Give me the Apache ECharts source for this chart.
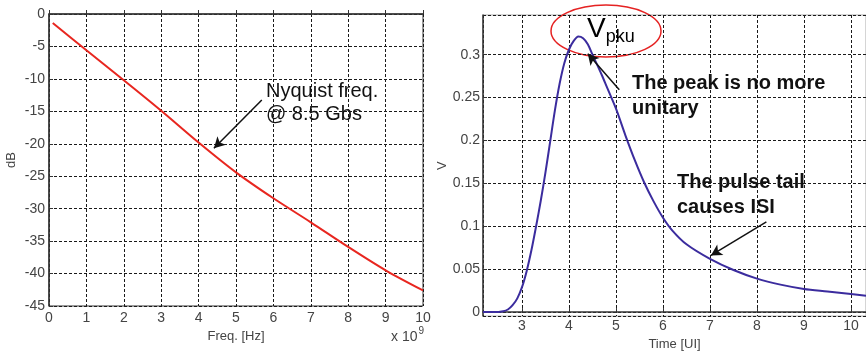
<!DOCTYPE html>
<html>
<head>
<meta charset="utf-8">
<title>Channel loss and pulse response</title>
<style>
  html, body { margin: 0; padding: 0; background: #fff; }
  #main { width: 866px; height: 356px; }
</style>
</head>
<body>
<div id="main"></div>
<script src="https://cdn.jsdelivr.net/npm/echarts@6/dist/echarts.min.js"></script>
<script>
// left plot: channel loss vs frequency (x in units of 1e9 Hz)
var freqGHz = [0.1, 1, 2, 3, 4, 5, 6, 7, 8, 9, 10];
var lossDb = [-1.4, -5.6, -10.2, -14.9, -19.8, -24.4, -28.4, -32.1, -35.9, -39.5, -42.6];
var freqTicks = ['0', '1', '2', '3', '4', '5', '6', '7', '8', '9', '10'];
var dbTicks = ['0', '-5', '-10', '-15', '-20', '-25', '-30', '-35', '-40', '-45'];

// right plot: pulse response vs time in UI
var timeUI = [2.17, 2.4, 2.6, 2.7, 2.8, 2.9, 3.0, 3.1, 3.2, 3.3, 3.4, 3.5, 3.6, 3.7, 3.8, 3.9,
  4.0, 4.1, 4.2, 4.3, 4.4, 4.5, 4.6, 4.7, 4.8, 5.0, 5.2, 5.4, 5.6, 5.8, 6.0, 6.2, 6.5,
  7.0, 7.5, 8.0, 8.5, 9.0, 9.5, 10.0, 10.32];
var pulseV = [0.0, 0.0, 0.001, 0.003, 0.008, 0.016, 0.029, 0.048, 0.072, 0.100, 0.130, 0.163, 0.199, 0.235, 0.266, 0.290,
  0.306, 0.316, 0.321, 0.319, 0.312, 0.300, 0.288, 0.276, 0.263, 0.237, 0.206, 0.177, 0.151, 0.129, 0.110, 0.095, 0.079,
  0.062, 0.049, 0.039, 0.032, 0.027, 0.024, 0.021, 0.019];

// arrows, in data coordinates: [fromX, fromY, toX, toY]
var nyquistArrow = [5.69, -13.25, 4.41, -20.7];
var peakArrow = [5.07, 0.259, 4.40, 0.301];
var tailArrow = [8.20, 0.105, 7.02, 0.066];

var font = "'Liberation Sans', Arial, sans-serif";
var gridLine = { show: true, lineStyle: { color: '#1a1a1a', type: [3, 2], width: 1 } };
var tickLabel = { color: '#444', fontSize: 14, fontFamily: font };

function pairs(xs, ys) {
  return xs.map(function (x, i) { return [x, ys[i]]; });
}

function arrow(a) {
  return [{ coord: [a[0], a[1]] }, { coord: [a[2], a[3]] }];
}

var myChart = echarts.init(document.getElementById('main'), null, { renderer: 'canvas' });

var option = {
  backgroundColor: '#fff',
  animation: false,
  grid: [
    { left: 49, top: 14, width: 374, height: 292, show: true, borderColor: '#333', borderWidth: 1, backgroundColor: '#fff' },
    { left: 483, top: 15, width: 385, height: 302, show: true, borderColor: '#aaa', borderWidth: 1, backgroundColor: '#fff' }
  ],
  xAxis: [
    {
      gridIndex: 0, type: 'value', min: 0, max: 10, interval: 1,
      name: 'Freq. [Hz]', nameLocation: 'middle', nameGap: 19,
      nameTextStyle: { color: '#444', fontSize: 13, fontFamily: font },
      axisLine: { lineStyle: { color: '#333', width: 1.5 } },
      axisTick: { inside: true, length: 4, lineStyle: { color: '#333' } },
      axisLabel: Object.assign({ margin: 5, formatter: function (v) { return freqTicks[Math.round(v)]; } }, tickLabel),
      splitLine: gridLine
    },
    {
      gridIndex: 1, type: 'value', min: 2.17, max: 10.32, splitNumber: 8,
      name: 'Time [UI]', nameLocation: 'middle', nameGap: 21,
      nameTextStyle: { color: '#444', fontSize: 13, fontFamily: font },
      axisLine: { lineStyle: { color: '#333', width: 1.5 } },
      axisTick: { inside: true, length: 4, lineStyle: { color: '#333' } },
      axisLabel: Object.assign({ margin: 3, showMinLabel: false, showMaxLabel: false }, tickLabel),
      splitLine: gridLine
    }
  ],
  yAxis: [
    {
      gridIndex: 0, type: 'value', min: -45, max: 0, interval: 5,
      name: 'dB', nameLocation: 'middle', nameGap: 31,
      nameTextStyle: { color: '#444', fontSize: 13, fontFamily: font },
      axisLine: { show: true, lineStyle: { color: '#333', width: 1.5 } },
      axisTick: { inside: true, length: 4, lineStyle: { color: '#333' } },
      axisLabel: Object.assign({ margin: 4, formatter: function (v) { return dbTicks[Math.round(-v / 5)]; } }, tickLabel),
      splitLine: gridLine
    },
    {
      gridIndex: 1, type: 'value', min: -0.0047, max: 0.3462, splitNumber: 7,
      name: 'V', nameLocation: 'middle', nameGap: 33,
      nameTextStyle: { color: '#444', fontSize: 13, fontFamily: font },
      axisLine: { show: true, lineStyle: { color: '#333', width: 1.5 } },
      axisTick: { inside: true, length: 4, lineStyle: { color: '#333' } },
      axisLabel: Object.assign({ margin: 3, showMinLabel: false, showMaxLabel: false }, tickLabel),
      splitLine: gridLine
    }
  ],
  series: [
    {
      type: 'line', xAxisIndex: 0, yAxisIndex: 0,
      data: pairs(freqGHz, lossDb),
      smooth: 0.3, showSymbol: false,
      lineStyle: { color: '#e8261f', width: 2 },
      markLine: {
        silent: true, symbol: ['none', 'arrow'], symbolSize: [9, 11],
        label: { show: false },
        lineStyle: { color: '#111', width: 1.5, type: 'solid' },
        data: [arrow(nyquistArrow)]
      }
    },
    {
      type: 'line', xAxisIndex: 1, yAxisIndex: 1,
      data: pairs(timeUI, pulseV),
      smooth: 0.3, showSymbol: false,
      lineStyle: { color: '#3b2c9e', width: 2 },
      markLine: {
        silent: true, symbol: ['none', 'arrow'], symbolSize: [9, 11],
        label: { show: false },
        lineStyle: { color: '#111', width: 1.5, type: 'solid' },
        data: [arrow(peakArrow), arrow(tailArrow)]
      }
    }
  ],
  graphic: [
    {
      type: 'text', left: 266, top: 80,
      style: { text: 'Nyquist freq.\n@ 8.5 Gbs', fill: '#111', font: '20px ' + font, lineHeight: 23 }
    },
    {
      type: 'text', left: 391, top: 326,
      style: {
        text: '{a|x 10}{b|9}', fill: '#444',
        rich: {
          a: { fontSize: 14, fontFamily: font, color: '#444', verticalAlign: 'bottom' },
          b: { fontSize: 10, fontFamily: font, color: '#444', verticalAlign: 'top', padding: [0, 0, 8, 1] }
        }
      }
    },
    {
      type: 'ellipse', shape: { cx: 606, cy: 31, rx: 55, ry: 26 },
      style: { fill: 'none', stroke: '#e52222', lineWidth: 1.5 }
    },
    {
      type: 'text', left: 587, top: 15,
      style: {
        text: '{v|V}{s|pku}',
        rich: {
          v: { fontSize: 28, fontFamily: font, color: '#111' },
          s: { fontSize: 18, fontFamily: font, color: '#111', padding: [16, 0, 0, 0] }
        }
      }
    },
    {
      type: 'text', left: 632, top: 71,
      style: { text: 'The peak is no more\nunitary', fill: '#111', font: 'bold 20px ' + font, lineHeight: 25 }
    },
    {
      type: 'text', left: 677, top: 170,
      style: { text: 'The pulse tail\ncauses ISI', fill: '#111', font: 'bold 20px ' + font, lineHeight: 25 }
    }
  ]
};

myChart.setOption(option);
</script>
</body>
</html>
